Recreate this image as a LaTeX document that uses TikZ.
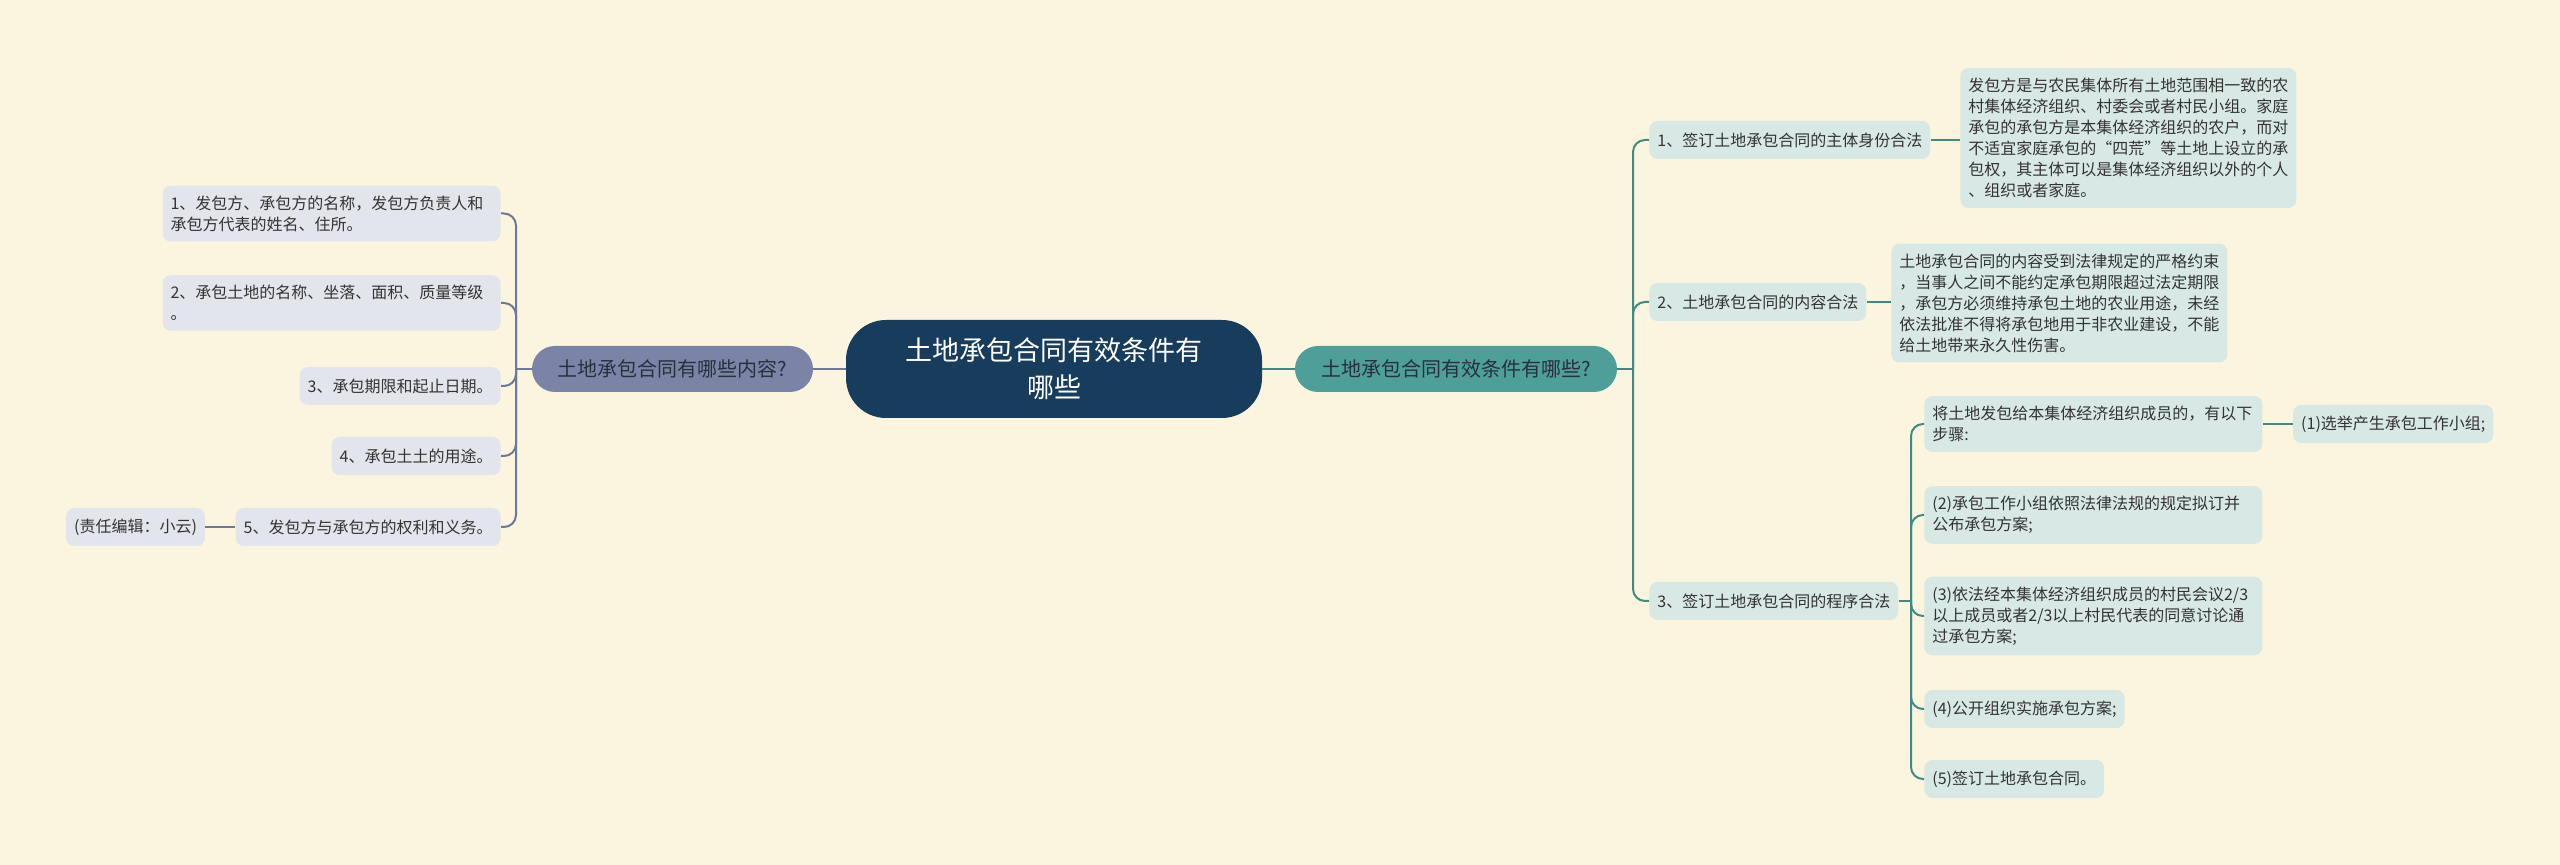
\documentclass[tikz,border=0pt]{standalone}
\usepackage{fontspec}
\setmainfont{Noto Sans CJK SC}
\usetikzlibrary{positioning}
\definecolor{bgcream}{HTML}{FBF5DF}
\definecolor{rootblue}{HTML}{173C5C}
\definecolor{lmainfill}{HTML}{7B84A7}
\definecolor{rmainfill}{HTML}{4E9E99}
\definecolor{lleaffill}{HTML}{E3E5EC}
\definecolor{rleaffill}{HTML}{D8E8E5}
\definecolor{llinecol}{HTML}{6E7898}
\definecolor{rlinecol}{HTML}{3F8A84}
\definecolor{maintext}{HTML}{2A2F3E}
\definecolor{leaftext}{HTML}{333333}
\tikzset{
    rootnode/.style={rectangle, rounded corners=20pt, minimum width=208pt, minimum height=49pt, align=center, fill=rootblue, text=white, font=\fontsize{13.5}{18.5}\selectfont},
    leftmain/.style={rectangle, rounded corners=11.5pt, minimum width=140.5pt, minimum height=23pt, align=center, fill=lmainfill, text=maintext, font=\fontsize{10}{12}\selectfont},
    rightmain/.style={leftmain, minimum width=161pt, fill=rmainfill},
    leftleaf/.style={rectangle, rounded corners=4pt, inner xsep=4pt, inner ysep=5pt, minimum height=19pt, align=left, fill=lleaffill, text=leaftext, font=\fontsize{8}{10.5}\selectfont},
    rightleaf/.style={leftleaf, fill=rleaffill},
    leftline/.style={draw=llinecol, line width=1pt, rounded corners=6pt},
    rightline/.style={draw=rlinecol, line width=1pt, rounded corners=6pt}
}
\begin{document}
\begin{tikzpicture}[x=0.5pt, y=-0.5pt]
    \fill[bgcream] (0,0) rectangle (2560,865);
    \useasboundingbox (0,0) rectangle (2560,865);

    % Centre
    \node (root) [rootnode] at (1054,369) {土地承包合同有效条件有\\哪些};
    \node (lm) [leftmain] at (672.5,369) {土地承包合同有哪些内容?};
    \node (rm) [rightmain] at (1456,369) {土地承包合同有效条件有哪些?};
    \draw [leftline] (root.west) -- (lm.east);
    \draw [rightline] (root.east) -- (rm.west);

    % Left side: contract contents
    \node (L1) [leftleaf, anchor=east, text width=161pt] at (501,213.5) {1、发包方、承包方的名称，发包方负责人和\\承包方代表的姓名、住所。};
    \node (L2) [leftleaf, anchor=east, text width=161pt] at (501,303) {2、承包土地的名称、坐落、面积、质量等级\\。};
    \node (L3) [leftleaf, anchor=east] at (501,386) {3、承包期限和起止日期。};
    \node (L4) [leftleaf, anchor=east] at (501,456) {4、承包土土的用途。};
    \node (L5) [leftleaf, anchor=east] at (501,527) {5、发包方与承包方的权利和义务。};
    \node (edit) [leftleaf, left=15pt of L5] {(责任编辑：小云)};

    \draw [leftline] (lm.west) -- (516,369);
    \draw [leftline] (516,369) |- (L1.east);
    \draw [leftline] (516,369) |- (L2.east);
    \draw [leftline] (516,369) |- (L3.east);
    \draw [leftline] (516,369) |- (L4.east);
    \draw [leftline] (516,369) |- (L5.east);
    \draw [leftline] (L5.west) -- (edit.east);

    % Right side: validity conditions
    \node (R1) [rightleaf, anchor=west] at (1649,140) {1、签订土地承包合同的主体身份合法};
    \node (R2) [rightleaf, anchor=west] at (1649,302) {2、土地承包合同的内容合法};
    \node (R3) [rightleaf, anchor=west] at (1649,601) {3、签订土地承包合同的程序合法};

    \draw [rightline] (rm.east) -- (1633,369);
    \draw [rightline] (1633,369) |- (R1.west);
    \draw [rightline] (1633,369) |- (R2.west);
    \draw [rightline] (1633,369) |- (R3.west);

    \node (R1a) [rightleaf, anchor=west] at (1960,138) {发包方是与农民集体所有土地范围相一致的农\\村集体经济组织、村委会或者村民小组。家庭\\承包的承包方是本集体经济组织的农户，而对\\不适宜家庭承包的“四荒”等土地上设立的承\\包权，其主体可以是集体经济组织以外的个人\\、组织或者家庭。};
    \node (R2a) [rightleaf, anchor=west] at (1891,303) {土地承包合同的内容受到法律规定的严格约束\\，当事人之间不能约定承包期限超过法定期限\\，承包方必须维持承包土地的农业用途，未经\\依法批准不得将承包地用于非农业建设，不能\\给土地带来永久性伤害。};
    \draw [rightline] (R1.east) -- (R1a.west |- R1.east);
    \draw [rightline] (R2.east) -- (R2a.west |- R2.east);

    % Procedure steps
    \node (S1) [rightleaf, anchor=west, text width=161pt] at (1924,424) {将土地发包给本集体经济组织成员的，有以下\\步骤:};
    \node (S1a) [rightleaf, right=15pt of S1] {(1)选举产生承包工作小组;};
    \node (S2) [rightleaf, anchor=west, text width=161pt] at (1924,515) {(2)承包工作小组依照法律法规的规定拟订并\\公布承包方案;};
    \node (S3) [rightleaf, anchor=west, text width=161pt] at (1924,616) {(3)依法经本集体经济组织成员的村民会议2/3\\以上成员或者2/3以上村民代表的同意讨论通\\过承包方案;};
    \node (S4) [rightleaf, anchor=west] at (1924,709) {(4)公开组织实施承包方案;};
    \node (S5) [rightleaf, anchor=west] at (1924,779) {(5)签订土地承包合同。};

    \draw [rightline] (R3.east) -- (1911,601);
    \draw [rightline] (1911,601) |- (S1.west);
    \draw [rightline] (1911,601) |- (S2.west);
    \draw [rightline] (1911,601) |- (S3.west);
    \draw [rightline] (1911,601) |- (S4.west);
    \draw [rightline] (1911,601) |- (S5.west);
    \draw [rightline] (S1.east) -- (S1a.west);
\end{tikzpicture}
\end{document}
